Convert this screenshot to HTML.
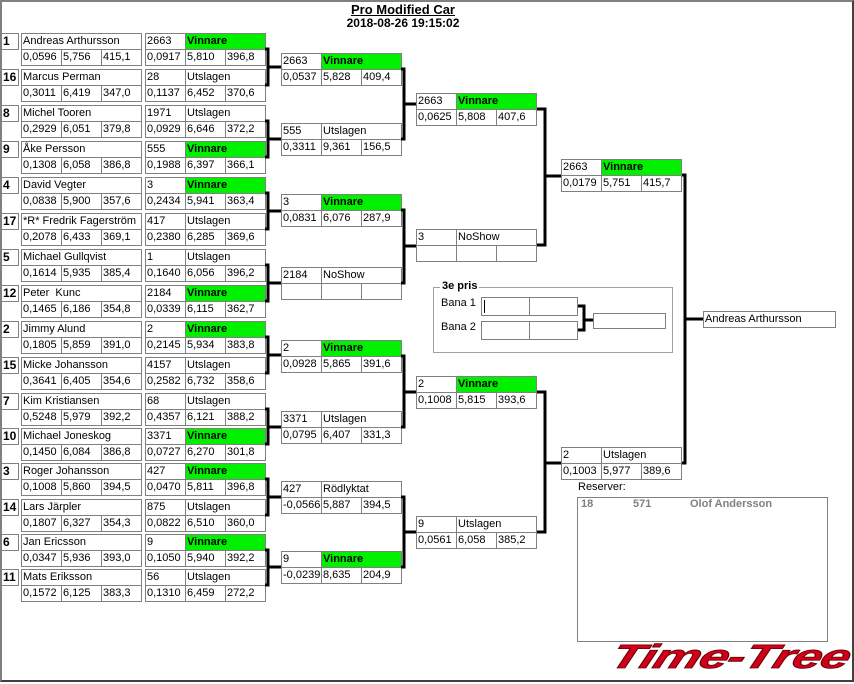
<!DOCTYPE html>
<html><head><meta charset="utf-8">
<style>
*{margin:0;padding:0;box-sizing:border-box}
body{width:854px;height:684px;background:#fff;position:relative;overflow:hidden;font-family:"Liberation Sans",Arial,sans-serif;font-size:11px;color:#000}
#frame{position:absolute;left:0;top:0;width:854px;height:682px;border-left:2px solid #808080;border-top:2px solid #808080;border-right:2px solid #404040;border-bottom:2px solid #404040}
.m{position:absolute;width:121px;height:33px}
.m i{position:absolute;font-style:normal;border:1px solid #808080;height:17px;line-height:15px;padding-left:1px;white-space:nowrap;overflow:hidden;background:#fff}
.a{left:0;top:0;width:41px}
.b{left:40px;top:0;width:81px}
.n{left:0;top:0;width:121px}
.c{left:0;top:16px;width:41px}
.d{left:40px;top:16px;width:41px}
.e{left:80px;top:16px;width:41px}
.m i.g{background:#00f000;font-weight:bold}
.m i.s{left:-20px;top:0;width:18px;font-weight:bold;font-size:12px}
.t{position:absolute;white-space:nowrap}
</style></head><body>
<div id="frame"></div>
<div class="t" style="left:0;width:806px;top:2px;text-align:center;font-weight:bold;font-size:13px;text-decoration:underline">Pro Modified Car</div>
<div class="t" style="left:0;width:806px;top:16px;text-align:center;font-weight:bold;font-size:12px">2018-08-26 19:15:02</div>

<!-- Column 1 -->
<div class="m" style="left:21px;top:33px"><i class="s">1</i><i class="n">Andreas Arthursson</i><i class="c">0,0596</i><i class="d">5,756</i><i class="e">415,1</i></div>
<div class="m" style="left:21px;top:69px"><i class="s">16</i><i class="n">Marcus Perman</i><i class="c">0,3011</i><i class="d">6,419</i><i class="e">347,0</i></div>
<div class="m" style="left:21px;top:105px"><i class="s">8</i><i class="n">Michel Tooren</i><i class="c">0,2929</i><i class="d">6,051</i><i class="e">379,8</i></div>
<div class="m" style="left:21px;top:141px"><i class="s">9</i><i class="n">Åke Persson</i><i class="c">0,1308</i><i class="d">6,058</i><i class="e">386,8</i></div>
<div class="m" style="left:21px;top:177px"><i class="s">4</i><i class="n">David Vegter</i><i class="c">0,0838</i><i class="d">5,900</i><i class="e">357,6</i></div>
<div class="m" style="left:21px;top:213px"><i class="s">17</i><i class="n">*R* Fredrik Fagerström</i><i class="c">0,2078</i><i class="d">6,433</i><i class="e">369,1</i></div>
<div class="m" style="left:21px;top:249px"><i class="s">5</i><i class="n">Michael Gullqvist</i><i class="c">0,1614</i><i class="d">5,935</i><i class="e">385,4</i></div>
<div class="m" style="left:21px;top:285px"><i class="s">12</i><i class="n">Peter&nbsp; Kunc</i><i class="c">0,1465</i><i class="d">6,186</i><i class="e">354,8</i></div>
<div class="m" style="left:21px;top:321px"><i class="s">2</i><i class="n">Jimmy Alund</i><i class="c">0,1805</i><i class="d">5,859</i><i class="e">391,0</i></div>
<div class="m" style="left:21px;top:357px"><i class="s">15</i><i class="n">Micke Johansson</i><i class="c">0,3641</i><i class="d">6,405</i><i class="e">354,6</i></div>
<div class="m" style="left:21px;top:393px"><i class="s">7</i><i class="n">Kim Kristiansen</i><i class="c">0,5248</i><i class="d">5,979</i><i class="e">392,2</i></div>
<div class="m" style="left:21px;top:428px"><i class="s">10</i><i class="n">Michael Joneskog</i><i class="c">0,1450</i><i class="d">6,084</i><i class="e">386,8</i></div>
<div class="m" style="left:21px;top:463px"><i class="s">3</i><i class="n">Roger Johansson</i><i class="c">0,1008</i><i class="d">5,860</i><i class="e">394,5</i></div>
<div class="m" style="left:21px;top:499px"><i class="s">14</i><i class="n">Lars Järpler</i><i class="c">0,1807</i><i class="d">6,327</i><i class="e">354,3</i></div>
<div class="m" style="left:21px;top:534px"><i class="s">6</i><i class="n">Jan Ericsson</i><i class="c">0,0347</i><i class="d">5,936</i><i class="e">393,0</i></div>
<div class="m" style="left:21px;top:569px"><i class="s">11</i><i class="n">Mats Eriksson</i><i class="c">0,1572</i><i class="d">6,125</i><i class="e">383,3</i></div>

<!-- Column 2 -->
<div class="m" style="left:145px;top:33px"><i class="a">2663</i><i class="b g">Vinnare</i><i class="c">0,0917</i><i class="d">5,810</i><i class="e">396,8</i></div>
<div class="m" style="left:145px;top:69px"><i class="a">28</i><i class="b">Utslagen</i><i class="c">0,1137</i><i class="d">6,452</i><i class="e">370,6</i></div>
<div class="m" style="left:145px;top:105px"><i class="a">1971</i><i class="b">Utslagen</i><i class="c">0,0929</i><i class="d">6,646</i><i class="e">372,2</i></div>
<div class="m" style="left:145px;top:141px"><i class="a">555</i><i class="b g">Vinnare</i><i class="c">0,1988</i><i class="d">6,397</i><i class="e">366,1</i></div>
<div class="m" style="left:145px;top:177px"><i class="a">3</i><i class="b g">Vinnare</i><i class="c">0,2434</i><i class="d">5,941</i><i class="e">363,4</i></div>
<div class="m" style="left:145px;top:213px"><i class="a">417</i><i class="b">Utslagen</i><i class="c">0,2380</i><i class="d">6,285</i><i class="e">369,6</i></div>
<div class="m" style="left:145px;top:249px"><i class="a">1</i><i class="b">Utslagen</i><i class="c">0,1640</i><i class="d">6,056</i><i class="e">396,2</i></div>
<div class="m" style="left:145px;top:285px"><i class="a">2184</i><i class="b g">Vinnare</i><i class="c">0,0339</i><i class="d">6,115</i><i class="e">362,7</i></div>
<div class="m" style="left:145px;top:321px"><i class="a">2</i><i class="b g">Vinnare</i><i class="c">0,2145</i><i class="d">5,934</i><i class="e">383,8</i></div>
<div class="m" style="left:145px;top:357px"><i class="a">4157</i><i class="b">Utslagen</i><i class="c">0,2582</i><i class="d">6,732</i><i class="e">358,6</i></div>
<div class="m" style="left:145px;top:393px"><i class="a">68</i><i class="b">Utslagen</i><i class="c">0,4357</i><i class="d">6,121</i><i class="e">388,2</i></div>
<div class="m" style="left:145px;top:428px"><i class="a">3371</i><i class="b g">Vinnare</i><i class="c">0,0727</i><i class="d">6,270</i><i class="e">301,8</i></div>
<div class="m" style="left:145px;top:463px"><i class="a">427</i><i class="b g">Vinnare</i><i class="c">0,0470</i><i class="d">5,811</i><i class="e">396,8</i></div>
<div class="m" style="left:145px;top:499px"><i class="a">875</i><i class="b">Utslagen</i><i class="c">0,0822</i><i class="d">6,510</i><i class="e">360,0</i></div>
<div class="m" style="left:145px;top:534px"><i class="a">9</i><i class="b g">Vinnare</i><i class="c">0,1050</i><i class="d">5,940</i><i class="e">392,2</i></div>
<div class="m" style="left:145px;top:569px"><i class="a">56</i><i class="b">Utslagen</i><i class="c">0,1310</i><i class="d">6,459</i><i class="e">272,2</i></div>

<!-- Column 3 -->
<div class="m" style="left:281px;top:53px"><i class="a">2663</i><i class="b g">Vinnare</i><i class="c">0,0537</i><i class="d">5,828</i><i class="e">409,4</i></div>
<div class="m" style="left:281px;top:123px"><i class="a">555</i><i class="b">Utslagen</i><i class="c">0,3311</i><i class="d">9,361</i><i class="e">156,5</i></div>
<div class="m" style="left:281px;top:194px"><i class="a">3</i><i class="b g">Vinnare</i><i class="c">0,0831</i><i class="d">6,076</i><i class="e">287,9</i></div>
<div class="m" style="left:281px;top:267px"><i class="a">2184</i><i class="b">NoShow</i><i class="c"></i><i class="d"></i><i class="e"></i></div>
<div class="m" style="left:281px;top:340px"><i class="a">2</i><i class="b g">Vinnare</i><i class="c">0,0928</i><i class="d">5,865</i><i class="e">391,6</i></div>
<div class="m" style="left:281px;top:411px"><i class="a">3371</i><i class="b">Utslagen</i><i class="c">0,0795</i><i class="d">6,407</i><i class="e">331,3</i></div>
<div class="m" style="left:281px;top:481px"><i class="a">427</i><i class="b">Rödlyktat</i><i class="c">-0,0566</i><i class="d">5,887</i><i class="e">394,5</i></div>
<div class="m" style="left:281px;top:551px"><i class="a">9</i><i class="b g">Vinnare</i><i class="c">-0,0239</i><i class="d">8,635</i><i class="e">204,9</i></div>

<!-- Column 4 -->
<div class="m" style="left:416px;top:93px"><i class="a">2663</i><i class="b g">Vinnare</i><i class="c">0,0625</i><i class="d">5,808</i><i class="e">407,6</i></div>
<div class="m" style="left:416px;top:229px"><i class="a">3</i><i class="b">NoShow</i><i class="c"></i><i class="d"></i><i class="e"></i></div>
<div class="m" style="left:416px;top:376px"><i class="a">2</i><i class="b g">Vinnare</i><i class="c">0,1008</i><i class="d">5,815</i><i class="e">393,6</i></div>
<div class="m" style="left:416px;top:516px"><i class="a">9</i><i class="b">Utslagen</i><i class="c">0,0561</i><i class="d">6,058</i><i class="e">385,2</i></div>

<!-- Column 5 -->
<div class="m" style="left:561px;top:159px"><i class="a">2663</i><i class="b g">Vinnare</i><i class="c">0,0179</i><i class="d">5,751</i><i class="e">415,7</i></div>
<div class="m" style="left:561px;top:447px"><i class="a">2</i><i class="b">Utslagen</i><i class="c">0,1003</i><i class="d">5,977</i><i class="e">389,6</i></div>

<!-- Final -->
<div class="t" style="left:703px;top:311px;width:133px;height:17px;border:1px solid #808080;line-height:15px;padding-left:1px">Andreas Arthursson</div>

<!-- 3e pris -->
<div class="t" style="left:433px;top:287px;width:240px;height:66px;border:1px solid #a0a0a0"></div>
<div class="t" style="left:440px;top:280px;background:#fff;padding:0 2px;font-weight:bold;font-size:11px">3e pris</div>
<div class="t" style="left:441px;top:297px">Bana 1</div>
<div class="t" style="left:441px;top:321px">Bana 2</div>
<div class="t" style="left:481px;top:297px;width:49px;height:19px;border:1px solid #808080"></div>
<div class="t" style="left:529px;top:297px;width:49px;height:19px;border:1px solid #808080"></div>
<div class="t" style="left:481px;top:321px;width:49px;height:19px;border:1px solid #808080"></div>
<div class="t" style="left:529px;top:321px;width:49px;height:19px;border:1px solid #808080"></div>
<div class="t" style="left:484px;top:300px;width:1px;height:13px;background:#000"></div>
<div class="t" style="left:593px;top:313px;width:73px;height:16px;border:1px solid #808080"></div>

<!-- Reserver -->
<div class="t" style="left:578px;top:481px">Reserver:</div>
<div class="t" style="left:577px;top:497px;width:251px;height:145px;border:1px solid #808080"></div>
<div class="t" style="left:581px;top:498px;color:#808080;font-weight:bold">18</div>
<div class="t" style="left:633px;top:498px;color:#808080;font-weight:bold">571</div>
<div class="t" style="left:690px;top:498px;color:#808080;font-weight:bold">Olof Andersson</div>

<!-- Logo -->
<div class="t" style="left:618px;top:640px;font-family:'Liberation Sans',sans-serif;font-weight:bold;font-style:italic;font-size:42px;line-height:42px;letter-spacing:-1px;color:#d0001a;transform-origin:0 0;transform:skewX(-20deg) scale(1.25,0.8);-webkit-text-stroke:1px #600">Time-Tree</div>

<svg width="854" height="684" style="position:absolute;left:0;top:0" fill="none" stroke="#000" stroke-width="3">
<path d="M265 49H268V85H265M268 67H281"/>
<path d="M265 121H268V157H265M268 139H281"/>
<path d="M265 193H268V229H265M268 211H281"/>
<path d="M265 265H268V301H265M268 283H281"/>
<path d="M265 337H268V373H265M268 355H281"/>
<path d="M265 409H268V444H265M268 427H281"/>
<path d="M265 479H268V515H265M268 497H281"/>
<path d="M265 550H268V585H265M268 567H281"/>
<path d="M401 69H404V139H401M404 104H416"/>
<path d="M401 210H404V283H401M404 246H416"/>
<path d="M401 356H404V427H401M404 392H416"/>
<path d="M401 497H404V567H401M404 532H416"/>
<path d="M537 109H545V245H537M545 176H561"/>
<path d="M537 392H545V532H537M545 463H561"/>
<path d="M682 175H685V463H682M685 319H703"/>
<path d="M578 306H584V330H578M584 320H593"/>
</svg>
</body></html>
